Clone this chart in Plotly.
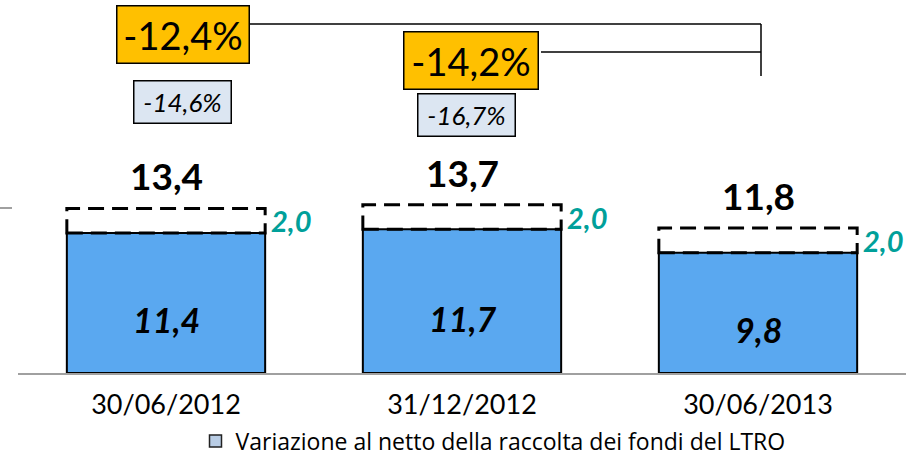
import plotly.graph_objects as go

categories = ["30/06/2012", "31/12/2012", "30/06/2013"]
net_values = [11.4, 11.7, 9.8]
ltro_values = [2.0, 2.0, 2.0]
total_values = [13.4, 13.7, 11.8]
main_pct = ["-12,4%", "-14,2%"]
sub_pct = ["-14,6%", "-16,7%"]
legend_label = "Variazione al netto della raccolta dei fondi del LTRO"

W, H = 919, 456
ML, MR, MT, MB = 18, 13, 0, 83
PW, PH = W - ML - MR, H - MT - MB
YMAX = 30.37
BAR_W = 0.67
FONT = "Lato"


def fmt(v):
    return f"{v:.1f}".replace(".", ",")


def px2paper(px, py):
    return (px - ML) / PW, (H - MB - py) / PH


fig = go.Figure()
x_idx = list(range(len(categories)))

fig.add_trace(go.Bar(
    x=x_idx, y=net_values, width=BAR_W,
    marker=dict(color="#5AA8F0", line=dict(color="black", width=2)),
    showlegend=False, hoverinfo="skip",
))
# legend-only trace
fig.add_trace(go.Bar(
    x=x_idx, y=[None] * len(categories), name=legend_label,
    marker=dict(color="#B9CDE5", line=dict(color="#222222", width=1.5)),
    showlegend=True,
))

shapes = []
annotations = []
for i, (n, l, t) in enumerate(zip(net_values, ltro_values, total_values)):
    shapes.append(dict(type="rect", xref="x", yref="y",
                       x0=i - BAR_W / 2, x1=i + BAR_W / 2, y0=n, y1=n + l,
                       line=dict(color="black", width=3, dash="16px,8px"),
                       fillcolor="rgba(0,0,0,0)", layer="above"))
    annotations.append(dict(x=i, y=n / 2, xref="x", yref="y", text=f"<b><i>{fmt(n)}</i></b>",
                            showarrow=False, yshift=-17,
                            font=dict(family=FONT, size=34, color="black")))
    annotations.append(dict(x=i, y=t, xref="x", yref="y", text=f"<b>{fmt(t)}</b>",
                            showarrow=False, yanchor="bottom", yshift=8,
                            font=dict(family=FONT, size=37, color="black")))
    annotations.append(dict(x=i + BAR_W / 2, y=n + l / 2, xref="x", yref="y",
                            text=f"<b><i>{fmt(l)}</i></b>", showarrow=False,
                            xanchor="left", xshift=4,
                            font=dict(family=FONT, size=29, color="#00A09A")))

# percent boxes (pixel geometry -> paper)
main_boxes = [(183, 34.5, 134, 59), (471, 60.5, 136, 59)]
sub_boxes = [(182.5, 102, 99, 44), (466.5, 115, 99, 44)]
for txt, (cx, cy, bw, bh) in zip(main_pct, main_boxes):
    x, y = px2paper(cx, cy)
    annotations.append(dict(x=x, y=y, xref="paper", yref="paper", text=txt, showarrow=False,
                            xanchor="center", yanchor="middle",
                            width=bw - 3, height=bh - 3, borderpad=0, borderwidth=1.5,
                            bordercolor="black", bgcolor="#FFC000",
                            font=dict(family=FONT, size=38, color="black")))
for txt, (cx, cy, bw, bh) in zip(sub_pct, sub_boxes):
    x, y = px2paper(cx, cy)
    annotations.append(dict(x=x, y=y, xref="paper", yref="paper", text=f"<i>{txt}</i>",
                            showarrow=False, xanchor="center", yanchor="middle",
                            width=bw - 3, height=bh - 3, borderpad=0, borderwidth=1.5,
                            bordercolor="black", bgcolor="#DCE6F2",
                            font=dict(family=FONT, size=26, color="black")))

# bracket lines
for (ax, ay, bx, by) in [(250, 24, 761, 24), (761, 24, 761, 76), (541, 52, 761, 52)]:
    x0, y0 = px2paper(ax, ay)
    x1, y1 = px2paper(bx, by)
    shapes.append(dict(type="line", xref="paper", yref="paper", x0=x0, y0=y0, x1=x1, y1=y1,
                       line=dict(color="black", width=1.5)))

# short gray stub at left
sx0, sy = px2paper(0, 208)
sx1, _ = px2paper(12, 208)
shapes.append(dict(type="line", xref="paper", yref="paper", x0=sx0, x1=sx1, y0=sy, y1=sy,
                   line=dict(color="#A0A0A0", width=2)))

lx, ly = px2paper(493, 441)
fig.update_layout(
    width=W, height=H,
    margin=dict(l=ML, r=MR, t=MT, b=MB, autoexpand=False),
    paper_bgcolor="white", plot_bgcolor="white",
    barmode="overlay",
    shapes=shapes, annotations=annotations,
    showlegend=True,
    legend=dict(orientation="h", x=lx, y=ly, xanchor="center", yanchor="middle",
                font=dict(family="Open Sans", size=23, color="black"), bgcolor="rgba(0,0,0,0)"),
    xaxis=dict(tickmode="array", tickvals=x_idx, ticktext=categories, range=[-0.5, 2.5],
               showline=True, linecolor="#A0A0A0", linewidth=2, showgrid=False, zeroline=False,
               ticks="", ticklabelstandoff=7,
               tickfont=dict(family=FONT, size=27, color="black")),
    yaxis=dict(range=[0, YMAX], visible=False, showgrid=False, zeroline=False),
)

fig.write_html("out.html", config={"displayModeBar": False},
               post_script="document.body.style.margin='0';")
